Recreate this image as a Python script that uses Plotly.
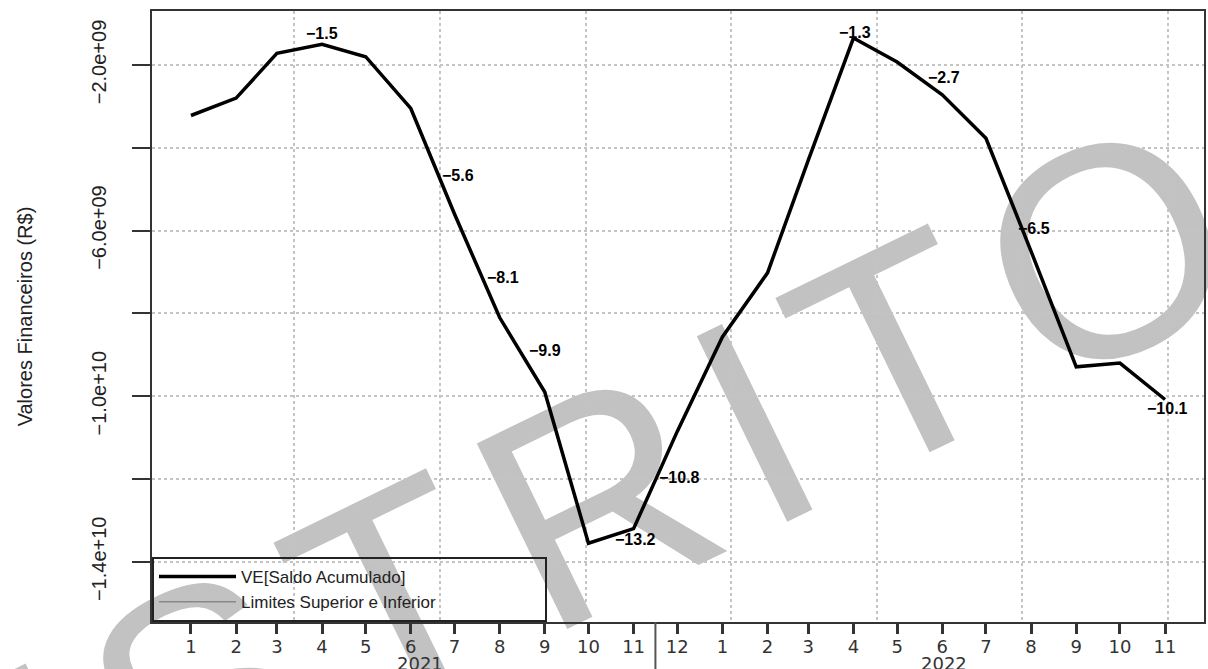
import pandas as pd
import plotly.graph_objects as go

# ---------------- data ----------------
months = list(pd.date_range("2021-01-01", "2022-11-01", freq="MS"))
month_labels = [str(d.month) for d in months]
# VE[Saldo Acumulado] in billions of R$
saldo_bi = [-3.22, -2.80, -1.72, -1.50, -1.80, -3.05, -5.60, -8.10, -9.90, -13.55, -13.20, -10.85,
            -8.57, -7.02, -4.30, -1.35, -1.93, -2.72, -3.77, -6.50, -9.29, -9.20, -10.08]
saldo = [v * 1e9 for v in saldo_bi]

# point labels (index into months, text)
label_idx = [3, 6, 7, 8, 10, 11, 15, 17, 19, 22]
label_text = ["\u22121.5", "\u22125.6", "\u22128.1", "\u22129.9", "\u221213.2", "\u221210.8",
              "\u22121.3", "\u22122.7", "\u22126.5", "\u221210.1"]
label_shift = [(0, 11), (3, 39), (3, 40), (0, 42), (2, -11), (2, -46), (2, 6), (2, 17), (3, 23), (2, -9)]

y_tickvals = [-2e9, -4e9, -6e9, -8e9, -10e9, -12e9, -14e9]
y_ticktext = ["\u22122.0e+09", "", "\u22126.0e+09", "", "\u22121.0e+10", "", "\u22121.4e+10"]

year_text = ["2021", "2022"]
year_pos = ["2021-06-07", "2022-06-02"]

series_names = ["VE[Saldo Acumulado]", "Limites Superior e Inferior"]

x_range = ["2020-12-05 05:45", "2022-11-27 18:15"]
y_range = [-15.454e9, -0.696e9]

DAY_MS = 86400000

fig = go.Figure()

fig.add_trace(go.Scatter(
    x=months, y=saldo, mode="lines", name=series_names[0],
    line=dict(color="#000000", width=3.5), hoverinfo="skip"))
fig.add_trace(go.Scatter(
    x=[None], y=[None], mode="lines", name=series_names[1] + "\u00a0" * 22,
    line=dict(color="#888888", width=1.5)))

# point labels
for i, t, (dx, dy) in zip(label_idx, label_text, label_shift):
    fig.add_annotation(x=months[i], y=saldo[i], text=t, showarrow=False,
                       xshift=dx, yshift=dy,
                       font=dict(family="Liberation Sans", size=16, color="#000000", weight="bold"))

# year labels
for t, p in zip(year_text, year_pos):
    fig.add_annotation(x=p, y=-0.0675, xref="x", yref="paper", text=t, showarrow=False,
                       yanchor="middle", xanchor="center",
                       font=dict(family="DejaVu Sans", size=18, color="#333333"))

# year separator between Nov/2021 and Dec/2021
sep = months[10] + (months[11] - months[10]) / 2
fig.add_shape(type="line", xref="x", yref="paper", x0=sep, x1=sep, y0=0, y1=-0.1,
              line=dict(color="#555555", width=2))

# watermark
wm = "\u200a".join("RESTRITO")
fig.add_shape(type="line", xref="paper", yref="paper", x0=0.2723, x1=0.2724, y0=0.126, y1=0.126,
              line=dict(color="rgba(0,0,0,0)", width=0), layer="below",
              label=dict(text=wm, font=dict(family="Liberation Sans", size=300, color="#c2c2c2"),
                         textangle=-26, textposition="middle", xanchor="center", yanchor="middle"))

fig.update_layout(
    width=1208, height=669, autosize=False,
    margin=dict(l=152, r=2, t=11, b=47, pad=0),
    paper_bgcolor="#ffffff", plot_bgcolor="rgba(0,0,0,0)",
    showlegend=True,
    legend=dict(x=0, y=0, xanchor="left", yanchor="bottom",
                bgcolor="rgba(0,0,0,0)", bordercolor="#222222", borderwidth=2,
                font=dict(family="Liberation Sans", size=17, color="#222222"),
                itemwidth=77, tracegroupgap=0),
    xaxis=dict(
        type="date", range=x_range,
        tickmode="array", tickvals=months, ticktext=month_labels, tickangle=0,
        ticks="outside", ticklen=10, tickwidth=2.5, tickcolor="#333333",
        tickfont=dict(family="DejaVu Sans", size=18, color="#333333"),
        ticklabelstandoff=-3,
        showgrid=False, showline=True, linecolor="#333333", linewidth=2, mirror=True,
        zeroline=False,
        minor=dict(tick0="2021-03-13", dtick=100 * DAY_MS, ticks="", showgrid=True,
                   gridcolor="#c4c4c4", griddash="dot", gridwidth=1.5),
    ),
    yaxis=dict(
        range=y_range, tickmode="array", tickvals=y_tickvals, ticktext=y_ticktext,
        tickangle=-90, ticks="outside", ticklen=18, tickwidth=2, tickcolor="#333333",
        tickfont=dict(family="Liberation Sans", size=20, color="#222222"),
        ticklabelstandoff=18,
        showgrid=True, gridcolor="#c4c4c4", griddash="dot", gridwidth=1.5,
        showline=True, linecolor="#333333", linewidth=2, mirror=True, zeroline=False,
        title=dict(text="Valores Financeiros (R$)", standoff=50,
                   font=dict(family="Liberation Sans", size=20, color="#222222")),
    ),
)

post = ("document.body.style.margin='0px';document.body.style.padding='0px';"
        "document.body.style.overflow='hidden';"
        "var gd=document.getElementById('{plot_id}');"
        "Plotly.relayout(gd,{width:1208,height:669});")

fig.write_html("out.html", config={"responsive": False, "displayModeBar": False},
               default_width="1208px", default_height="669px", post_script=post)
